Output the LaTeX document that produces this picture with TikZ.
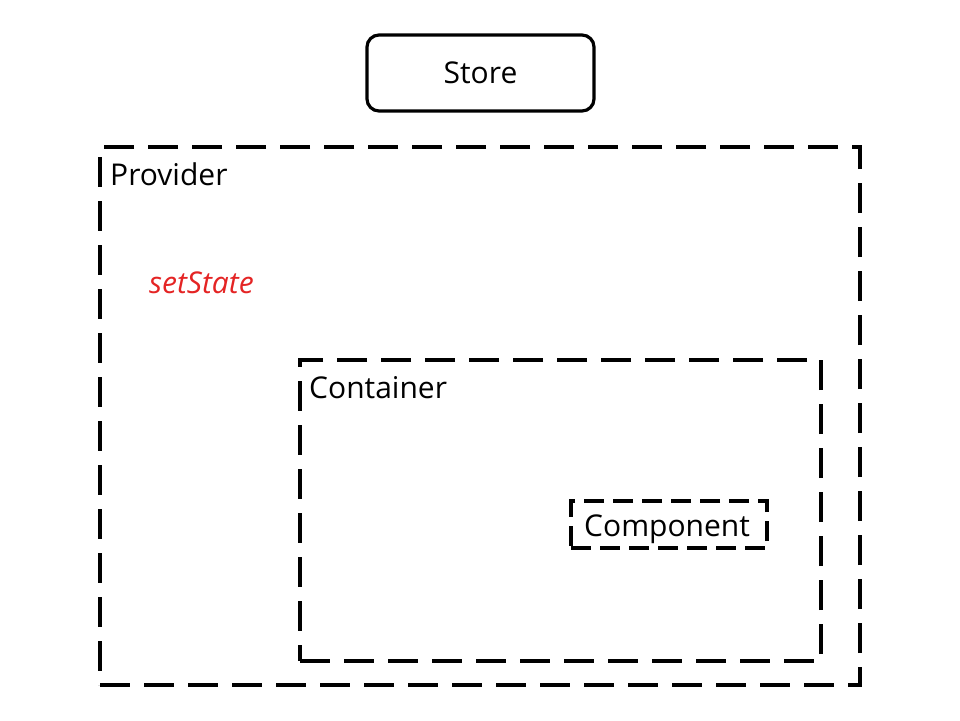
\documentclass[tikz,border=0pt]{standalone}
\usepackage{fontspec}
\setmainfont{Open Sans}
\definecolor{statered}{RGB}{228,36,36}
\begin{document}
\begin{tikzpicture}[x=1pt,y=-1pt,
  lbl/.style={font=\fontsize{30}{34}\selectfont, inner sep=0pt, anchor=west},
  bigdash/.style={draw, line width=4pt, dash pattern=on 30pt off 14pt, inner sep=0pt},
  smalldash/.style={draw, line width=3.2pt, dash pattern=on 20pt off 9pt, inner sep=0pt}]
\useasboundingbox (0,0) rectangle (960,720);
\node[draw, line width=3.2pt, rounded corners=12pt, minimum width=227pt, minimum height=76pt, text depth=0pt, font=\fontsize{30}{34}\selectfont] (store) at (480.5,73) {Store};
\node[bigdash, minimum width=760pt, minimum height=538pt] (provider) at (480,416) {};
\node[bigdash, minimum width=521pt, minimum height=301pt] (container) at (560.5,510.5) {};
\node[smalldash, minimum width=196pt, minimum height=47pt] (component) at (669,524.5) {};
\node[lbl] (providerlbl) at (110,174) {Provider};
\node[lbl] (containerlbl) at (309,388) {Container};
\node[lbl] (componentlbl) at (584,529) {Component};
\node[lbl, text=statered, font=\fontsize{30}{34}\selectfont\itshape] (setstate) at (149,283) {setState};
\end{tikzpicture}
\end{document}
